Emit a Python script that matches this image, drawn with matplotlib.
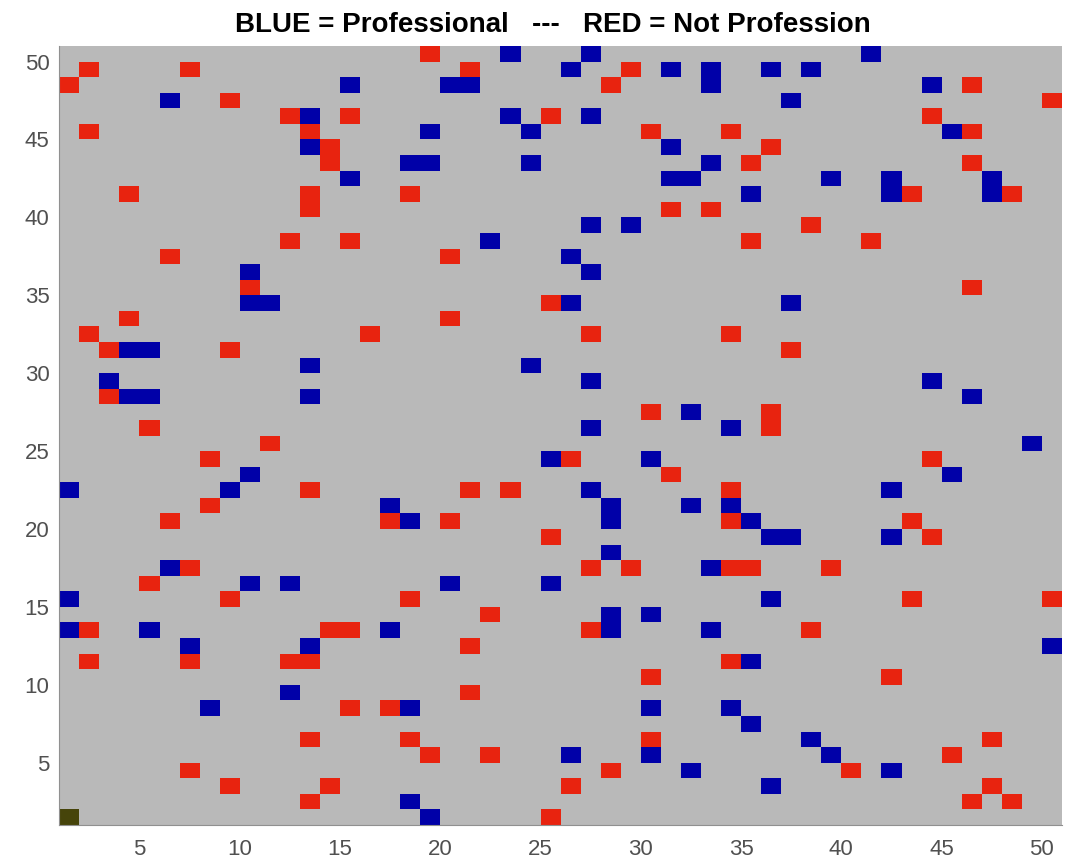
import numpy as np
import matplotlib
matplotlib.use("Agg")
import matplotlib.pyplot as plt
from matplotlib.colors import ListedColormap

# 50x50 grid, cells given as (column, row), both 1-based
n = 50
blue_cells = [
    (23, 50), (27, 50), (41, 50),
    (26, 49), (31, 49), (33, 49), (36, 49), (38, 49),
    (15, 48), (20, 48), (21, 48), (33, 48), (44, 48),
    (6, 47), (37, 47),
    (13, 46), (23, 46), (27, 46),
    (19, 45), (24, 45), (45, 45),
    (13, 44), (31, 44),
    (18, 43), (19, 43), (24, 43), (33, 43),
    (15, 42), (31, 42), (32, 42), (39, 42), (42, 42), (47, 42),
    (35, 41), (42, 41), (47, 41),
    (27, 39), (29, 39),
    (22, 38),
    (26, 37),
    (10, 36), (27, 36),
    (10, 34), (11, 34), (26, 34), (37, 34),
    (4, 31), (5, 31),
    (13, 30), (24, 30),
    (3, 29), (27, 29), (44, 29),
    (4, 28), (5, 28), (13, 28), (46, 28),
    (32, 27),
    (27, 26), (34, 26),
    (49, 25),
    (25, 24), (30, 24),
    (10, 23), (45, 23),
    (1, 22), (9, 22), (27, 22), (42, 22),
    (17, 21), (28, 21), (32, 21), (34, 21),
    (18, 20), (28, 20), (35, 20),
    (36, 19), (37, 19), (42, 19),
    (28, 18),
    (6, 17), (33, 17),
    (10, 16), (12, 16), (20, 16), (25, 16),
    (1, 15), (36, 15),
    (28, 14), (30, 14),
    (1, 13), (5, 13), (17, 13), (28, 13), (33, 13),
    (7, 12), (13, 12), (50, 12),
    (35, 11),
    (12, 9),
    (8, 8), (18, 8), (30, 8), (34, 8),
    (35, 7),
    (38, 6),
    (26, 5), (30, 5), (39, 5),
    (32, 4), (42, 4),
    (36, 3),
    (18, 2),
    (19, 1),
]
red_cells = [
    (19, 50),
    (2, 49), (7, 49), (21, 49), (29, 49),
    (1, 48), (28, 48), (46, 48),
    (9, 47), (50, 47),
    (12, 46), (15, 46), (25, 46), (44, 46),
    (2, 45), (13, 45), (30, 45), (34, 45), (46, 45),
    (14, 44), (36, 44),
    (14, 43), (35, 43), (46, 43),
    (4, 41), (13, 41), (18, 41), (43, 41), (48, 41),
    (13, 40), (31, 40), (33, 40),
    (38, 39),
    (12, 38), (15, 38), (35, 38), (41, 38),
    (6, 37), (20, 37),
    (10, 35), (46, 35),
    (25, 34),
    (4, 33), (20, 33),
    (2, 32), (16, 32), (27, 32), (34, 32),
    (3, 31), (9, 31), (37, 31),
    (3, 28),
    (30, 27), (36, 27),
    (5, 26), (36, 26),
    (11, 25),
    (8, 24), (26, 24), (44, 24),
    (31, 23),
    (13, 22), (21, 22), (23, 22), (34, 22),
    (8, 21),
    (6, 20), (17, 20), (20, 20), (34, 20), (43, 20),
    (25, 19), (44, 19),
    (7, 17), (27, 17), (29, 17), (34, 17), (35, 17), (39, 17),
    (5, 16),
    (9, 15), (18, 15), (43, 15), (50, 15),
    (22, 14),
    (2, 13), (14, 13), (15, 13), (27, 13), (38, 13),
    (21, 12),
    (2, 11), (7, 11), (12, 11), (13, 11), (34, 11),
    (30, 10), (42, 10),
    (21, 9),
    (15, 8), (17, 8),
    (13, 6), (18, 6), (30, 6), (47, 6),
    (19, 5), (22, 5), (45, 5),
    (7, 4), (28, 4), (40, 4),
    (9, 3), (14, 3), (26, 3), (47, 3),
    (13, 2), (46, 2), (48, 2),
    (25, 1),
]
start_cell = (1, 1)

grid = np.zeros((n, n), dtype=int)
for x, y in blue_cells:
    grid[y - 1, x - 1] = 1
for x, y in red_cells:
    grid[y - 1, x - 1] = 2
grid[start_cell[1] - 1, start_cell[0] - 1] = 3

cmap = ListedColormap(["#b9b9b9", "#0000a8", "#e8230f", "#46440a"])

fig = plt.figure(figsize=(10.66, 8.68), dpi=100)
ax = fig.add_axes([0.0556, 0.0495, 0.9406, 0.8975])
edges = np.arange(1, n + 2)
ax.pcolormesh(edges, edges, grid, cmap=cmap, vmin=-0.5, vmax=3.5)
ax.set_xlim(1, n + 1)
ax.set_ylim(1, n + 1)

ticks = np.arange(5, 51, 5)
ax.set_xticks(ticks)
ax.set_yticks(ticks)
ax.tick_params(length=0, labelsize=16, labelcolor="#505050")
ax.tick_params(axis="x", pad=10)
ax.tick_params(axis="y", pad=7)
for lab in ax.get_xticklabels() + ax.get_yticklabels():
    lab.set_family("Liberation Sans")
for s in ["top", "right"]:
    ax.spines[s].set_visible(False)
for s in ["left", "bottom"]:
    ax.spines[s].set_color("#909090")
    ax.spines[s].set_linewidth(0.8)

fig.text(0.519, 0.971, "BLUE = Professional   ---   RED = Not Profession",
         fontsize=20, fontweight="bold", family="Liberation Sans",
         ha="center", va="center")

fig.savefig("out.png", dpi=100)
